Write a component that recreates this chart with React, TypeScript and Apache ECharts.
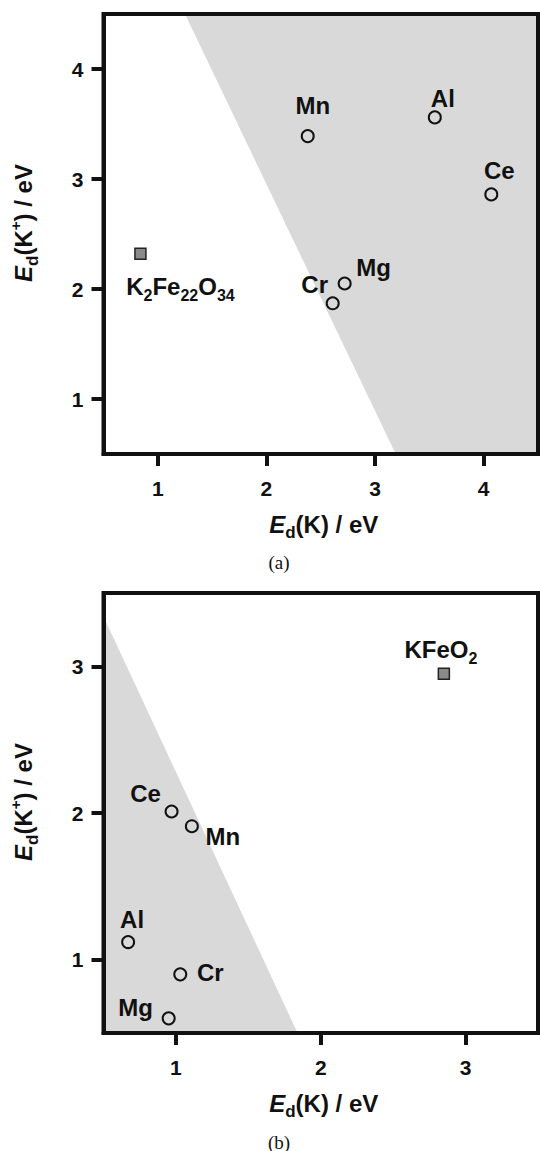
import { useEffect, useRef } from "react";
import * as echarts from "echarts";

// Panel (a): dopants against K2Fe22O34
const elementsA = ["Mn", "Al", "Ce", "Mg", "Cr"];
const edKA = [2.38, 3.55, 4.07, 2.72, 2.61];
const edKionA = [3.39, 3.56, 2.86, 2.05, 1.87];
const refNameA = "K2Fe22O34";
const refKA = 0.84;
const refKionA = 2.32;
const shadeA = [
  [1.25, 4.5],
  [4.5, 4.5],
  [4.5, 0.5],
  [3.19, 0.5],
];
const ticksA = [1, 2, 3, 4];

// Panel (b): dopants against KFeO2
const elementsB = ["Ce", "Mn", "Al", "Cr", "Mg"];
const edKB = [0.97, 1.11, 0.67, 1.03, 0.95];
const edKionB = [2.01, 1.91, 1.12, 0.9, 0.6];
const refNameB = "KFeO2";
const refKB = 2.85;
const refKionB = 2.95;
const shadeB = [
  [0.5, 3.34],
  [1.84, 0.5],
  [0.5, 0.5],
];
const ticksB = [1, 2, 3];

// label placement (pixel offsets from each marker)
const labelOffsetA: Record<string, number[]> = {
  Mn: [5, -31],
  Al: [8, -19],
  Ce: [8, -24],
  Mg: [29, -16],
  Cr: [-18, -19],
  K2Fe22O34: [40, 33],
};
const labelOffsetB: Record<string, number[]> = {
  Ce: [-26, -18],
  Mn: [31, 10],
  Al: [4, -23],
  Cr: [30, -2],
  Mg: [-33, -11],
  KFeO2: [-3, -24],
};

const INK = "#111111";
const SHADE = "#d9d9d9";
const FONT = '"Liberation Sans", Arial, Helvetica, sans-serif';
const SERIF = '"Liberation Serif", "Times New Roman", serif';

const chem = (s: string) =>
  s.replace(/([A-Za-z]+)|(\d+)/g, (_m: string, a: string, d: string) =>
    a ? `{m|${a}}` : `{s|${d}}`
  );

const chemRich = {
  m: { fontSize: 24, fontWeight: "bold", fontFamily: FONT, color: INK },
  s: {
    fontSize: 16,
    fontWeight: "bold",
    fontFamily: FONT,
    color: INK,
    padding: [18, 0, 0, 0],
  },
};

const titleRich = {
  i: { fontSize: 24, fontWeight: "bold", fontStyle: "italic", fontFamily: FONT, color: INK },
  m: { fontSize: 24, fontWeight: "bold", fontFamily: FONT, color: INK },
  s: { fontSize: 17, fontWeight: "bold", fontFamily: FONT, color: INK, padding: [17, 0, 0, 0] },
  p: { fontSize: 15, fontWeight: "bold", fontFamily: FONT, color: INK, padding: [0, 0, 16, 0] },
};

const xTitle = "{i|E}{s|d}{m|(K) / eV}";
const yTitle = "{i|E}{s|d}{m|(K}{p|+}{m|) / eV}";

function makeAxis(kind: "x" | "y", gridIndex: number, ticks: number[], min: number, max: number) {
  return {
    type: "value",
    gridIndex,
    min,
    max,
    name: kind === "x" ? xTitle : yTitle,
    nameLocation: "middle",
    nameGap: kind === "x" ? 53 : 63,
    nameRotate: kind === "x" ? 0 : 90,
    nameTextStyle: {
      rich: titleRich,
      padding: kind === "x" ? [0, 0, 0, 6] : [0, 0, 0, 22],
    },
    axisLine: { show: true, onZero: false, lineStyle: { color: INK, width: 4 } },
    axisTick: {
      show: true,
      inside: false,
      length: 12,
      customValues: ticks,
      lineStyle: { color: INK, width: 4 },
    },
    axisLabel: {
      customValues: ticks,
      fontSize: 21,
      fontWeight: "bold",
      fontFamily: FONT,
      color: INK,
      margin: kind === "x" ? 24 : 20,
    },
    splitLine: { show: false },
  };
}

function panelSeries(
  idx: number,
  names: string[],
  xs: number[],
  ys: number[],
  refName: string,
  refX: number,
  refY: number,
  shade: number[][],
  offsets: Record<string, number[]>
) {
  return [
    {
      type: "custom",
      xAxisIndex: idx,
      yAxisIndex: idx,
      z: -1,
      silent: true,
      data: shade,
      renderItem: (params: any, api: any) => {
        if (params.dataIndex !== 0) return null;
        const pts = shade.map((p) => api.coord(p));
        return { type: "polygon", shape: { points: pts }, style: { fill: SHADE } };
      },
    },
    {
      type: "scatter",
      xAxisIndex: idx,
      yAxisIndex: idx,
      symbol: "circle",
      symbolSize: 12,
      itemStyle: { color: "rgba(0,0,0,0)", borderColor: INK, borderWidth: 2, opacity: 1 },
      label: {
        show: true,
        position: "inside",
        formatter: "{b}",
        fontSize: 24,
        fontWeight: "bold",
        fontFamily: FONT,
        color: INK,
        textBorderWidth: 0,
      },
      data: names.map((n, i) => ({
        name: n,
        value: [xs[i], ys[i]],
        label: { offset: offsets[n] },
      })),
    },
    {
      type: "scatter",
      xAxisIndex: idx,
      yAxisIndex: idx,
      symbol: "rect",
      symbolSize: 11,
      itemStyle: { color: "#8a8a8a", borderColor: "#222222", borderWidth: 1.5, opacity: 1 },
      label: {
        show: true,
        position: "inside",
        formatter: chem(refName),
        rich: chemRich,
        color: INK,
        textBorderWidth: 0,
        offset: offsets[refName],
      },
      data: [{ name: refName, value: [refX, refY] }],
    },
  ];
}

export default function App() {
  const ref = useRef<HTMLDivElement>(null);

  useEffect(() => {
    if (!ref.current) return;
    const chart = echarts.init(ref.current, undefined, { renderer: "svg" });
    chart.setOption({
      animation: false,
      backgroundColor: "#ffffff",
      grid: [
        { left: 100, top: 14, width: 438, height: 440, show: true, borderColor: INK, borderWidth: 4, z: 0 },
        { left: 100, top: 593, width: 438, height: 440, show: true, borderColor: INK, borderWidth: 4, z: 0 },
      ],
      xAxis: [makeAxis("x", 0, ticksA, 0.5, 4.5), makeAxis("x", 1, ticksB, 0.5, 3.5)],
      yAxis: [makeAxis("y", 0, ticksA, 0.5, 4.5), makeAxis("y", 1, ticksB, 0.5, 3.5)],
      series: [
        ...panelSeries(0, elementsA, edKA, edKionA, refNameA, refKA, refKionA, shadeA, labelOffsetA),
        ...panelSeries(1, elementsB, edKB, edKionB, refNameB, refKB, refKionB, shadeB, labelOffsetB),
      ],
      graphic: [
        {
          type: "text",
          x: 279,
          y: 562,
          style: {
            text: "(a)",
            font: `19px ${SERIF}`,
            fill: INK,
            align: "center",
            verticalAlign: "middle",
            textAlign: "center",
            textVerticalAlign: "middle",
          },
        },
        {
          type: "text",
          x: 279,
          y: 1142,
          style: {
            text: "(b)",
            font: `19px ${SERIF}`,
            fill: INK,
            align: "center",
            verticalAlign: "middle",
            textAlign: "center",
            textVerticalAlign: "middle",
          },
        },
      ],
    });
    return () => chart.dispose();
  }, []);

  return (
    <div
      ref={ref}
      style={{ position: "absolute", left: 0, top: 0, width: 540, height: 1151, background: "#fff" }}
    />
  );
}
